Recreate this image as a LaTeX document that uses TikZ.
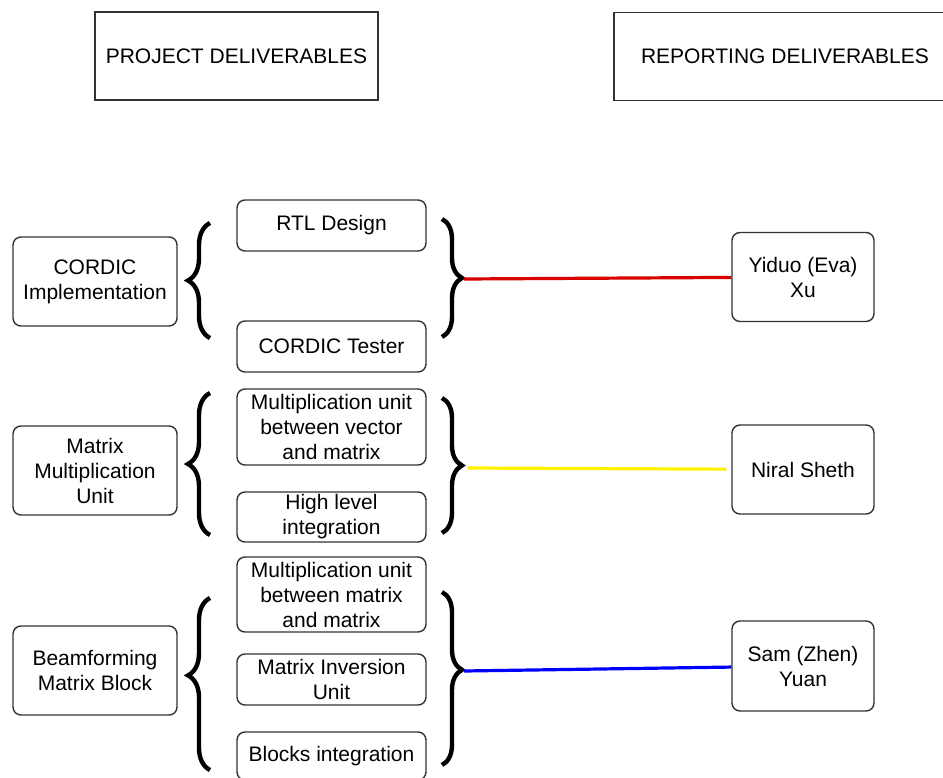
\documentclass[tikz,border=0pt]{standalone}
\usepackage{fontspec}
\setmainfont{Liberation Sans}
\usetikzlibrary{decorations.pathreplacing}

\begin{document}
\begin{tikzpicture}[
    x = 0.5pt,
    y = -0.5pt,
    font = \fontsize{10.5}{12.5}\selectfont,
    header/.style = {draw=black!80, line width=0.7pt, align=center,
    minimum height=44pt, inner sep=0pt},
    task/.style = {draw=black!80, line width=0.7pt, rounded corners=4pt,
    align=center, minimum width=82pt, minimum height=44.5pt, inner sep=0pt},
    sub/.style = {draw=black!80, line width=0.7pt, rounded corners=4pt,
    align=center, minimum width=94.5pt, inner sep=0pt},
    person/.style = {draw=black!80, line width=0.7pt, rounded corners=4pt,
    align=center, minimum width=71pt, minimum height=44.5pt, inner sep=0pt},
    lbrace/.style = {decorate, decoration={brace, amplitude=11pt}, line width=2.2pt},
    rbrace/.style = {decorate, decoration={brace, amplitude=10pt}, line width=2.2pt},
    link/.style = {line width=1.6pt},
]
\useasboundingbox (0,0) rectangle (943,777);
\clip (0,0) rectangle (943,777);

\node[header, minimum width=141.5pt] (proj_head) at (236.5,56){PROJECT DELIVERABLES};
\node[header, minimum width=171pt] (rep_head) at (785,56.5){REPORTING DELIVERABLES};

\node[task] (task_cordic) at (95,281.5){CORDIC\\Implementation};
    \node[sub, minimum height=25.5pt] (sub_rtl) at (331.5,225.5){RTL Design};
    \node[sub, minimum height=25.5pt] (sub_tester) at (331.5,346.5){CORDIC Tester};
    \draw [lbrace] (210,338) -- (210,223);
    \draw [rbrace] (442,219) -- (442,337);
    \coordinate (tip_cordic) at (464,279);

\node[task] (task_matmul) at (95,470.5){Matrix\\Multiplication\\Unit};
    \node[sub, minimum height=38pt] (sub_vecmat) at (331.5,427){Multiplication unit\\between vector\\and matrix};
    \node[sub, minimum height=25pt] (sub_highlvl) at (331.5,517){High level\\integration};
    \draw [lbrace] (210,535) -- (210,393);
    \draw [rbrace] (442,398) -- (442,533);
    \coordinate (tip_matmul) at (468,468);

\node[task] (task_beam) at (95,670.5){Beamforming\\Matrix Block};
    \node[sub, minimum height=37.5pt] (sub_matmat) at (331.5,594.5){Multiplication unit\\between matrix\\and matrix};
    \node[sub, minimum height=25.5pt] (sub_inv) at (331.5,679.5){Matrix Inversion\\Unit};
    \node[sub, minimum height=24pt] (sub_blocks) at (331.5,756){Blocks integration};
    \draw [lbrace, decoration={aspect=0.55}] (210,770) -- (210,598);
    \draw [rbrace, decoration={aspect=0.45}] (442,592) -- (442,765);
    \coordinate (tip_beam) at (464,671);

\node[person] (yiduo) at (803,277){Yiduo (Eva)\\Xu};
\node[person] (niral) at (803,469.5){Niral Sheth};
\node[person, minimum height=45pt] (sam) at (803,666){Sam (Zhen)\\Yuan};

\draw [link, red!85!black] (tip_cordic) -- (yiduo);
\draw [link, yellow, shorten >=2.5pt] (tip_matmul) -- (niral);
\draw [link, blue] (tip_beam) -- (sam);
\end{tikzpicture}
\end{document}
